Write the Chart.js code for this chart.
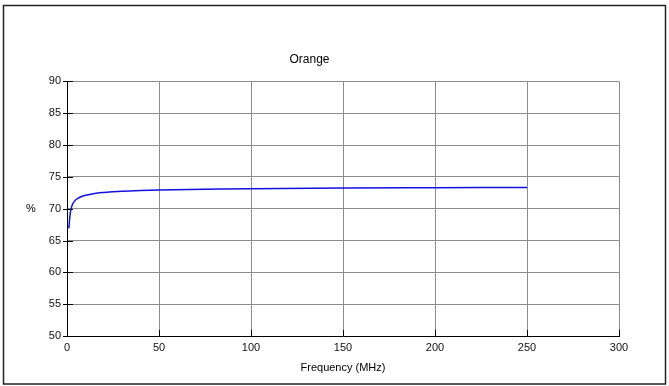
<!DOCTYPE html>
<html>
<head>
<meta charset="utf-8">
<script src="https://cdn.jsdelivr.net/npm/chart.js@4/dist/chart.umd.min.js"></script>
<style>
  html, body { margin: 0; padding: 0; background: #fff; }
  #wrap { width: 669px; height: 386px; }
</style>
</head>
<body>
<div id="wrap"><canvas id="myChart" width="669" height="386"></canvas></div>
<script>
// values
const freqMHz = [1, 1.5, 2, 3, 4, 5, 7, 10, 15, 20, 30, 40, 50, 75, 100, 150, 200, 250];
const percent = [66.9, 68.6, 69.7, 70.7, 71.15, 71.45, 71.8, 72.1, 72.4, 72.55, 72.75, 72.87, 72.95, 73.05, 73.15, 73.25, 73.3, 73.35];

const chartTitle = "Orange";
const xTitle = "Frequency (MHz)";
const yTitle = "%";

const fontFamily = "'Liberation Sans', Arial, sans-serif";

const points = freqMHz.map((f, i) => ({ x: f, y: percent[i] }));

// frame, % label and the small black tick marks
const extras = {
  id: "extras",
  afterDraw(chart) {
    const { ctx, scales: { x, y } } = chart;
    ctx.save();
    ctx.strokeStyle = "#000";
    ctx.lineWidth = 1;
    ctx.beginPath();
    x.ticks.forEach((t, i) => {
      const px = Math.round(x.getPixelForTick(i)) + 0.5;
      ctx.moveTo(px, y.bottom);
      ctx.lineTo(px, y.bottom - 6);
    });
    y.ticks.forEach((t, i) => {
      const py = Math.round(y.getPixelForTick(i)) + 0.5;
      ctx.moveTo(x.left - 4, py);
      ctx.lineTo(x.left + 6, py);
    });
    ctx.stroke();

    ctx.fillStyle = "#000";
    ctx.font = "11px " + fontFamily;
    ctx.textAlign = "center";
    ctx.textBaseline = "middle";
    ctx.fillText(yTitle, 31, (y.top + y.bottom) / 2);

    ctx.strokeStyle = "#222";
    ctx.lineWidth = 1.5;
    ctx.strokeRect(3.5, 5.5, 662, 378.5);
    ctx.restore();
  },
};

const config = {
  type: "line",
  data: {
    datasets: [
      {
        label: chartTitle,
        data: points,
        borderColor: "#1010e0",
        borderWidth: 1.5,
        pointRadius: 0,
        cubicInterpolationMode: "monotone",
        fill: false,
      },
    ],
  },
  options: {
    responsive: false,
    animation: false,
    layout: { padding: { left: 0, right: 50, top: 0, bottom: 0 } },
    plugins: {
      legend: { display: false },
      tooltip: { enabled: false },
      title: {
        display: true,
        text: chartTitle,
        color: "#000",
        font: { family: fontFamily, size: 12, weight: "normal" },
        padding: { top: 52, bottom: 15 },
      },
    },
    scales: {
      x: {
        type: "linear",
        min: 0,
        max: 300,
        border: { color: "#000", width: 1 },
        grid: { color: "#8c8c8c", drawTicks: false },
        ticks: {
          stepSize: 50,
          padding: 5,
          color: "#111",
          maxRotation: 0,
          font: { family: fontFamily, size: 11 },
        },
        title: {
          display: true,
          text: xTitle,
          color: "#000",
          font: { family: fontFamily, size: 11 },
          padding: { top: 4, bottom: 11 },
        },
        afterFit: (scale) => {
          scale.height = 50;
        },
      },
      y: {
        min: 50,
        max: 90,
        border: { color: "#000", width: 1 },
        grid: { color: "#8c8c8c", drawTicks: false },
        ticks: {
          stepSize: 5,
          padding: 6,
          color: "#111",
          font: { family: fontFamily, size: 11 },
        },
        afterFit: (scale) => {
          scale.width = 67;
        },
      },
    },
  },
  plugins: [extras],
};

new Chart(document.getElementById("myChart"), config);
</script>
</body>
</html>
